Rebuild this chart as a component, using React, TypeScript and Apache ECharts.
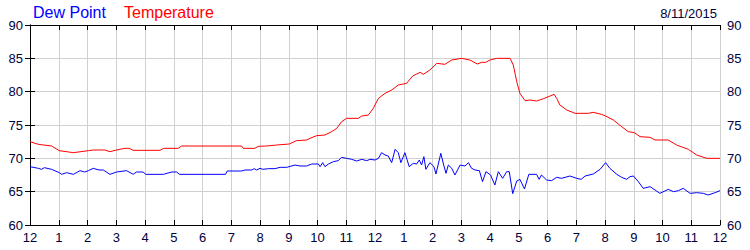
import React, { useEffect, useRef } from "react";
import * as echarts from "echarts";

const xTickLabels = ["12","1","2","3","4","5","6","7","8","9","10","11","12","1","2","3","4","5","6","7","8","9","10","11","12"];
const yTicks = [60, 65, 70, 75, 80, 85, 90];

const tempHours = [0,0.29,0.75,1.02,1.51,2.03,2.2,2.6,2.78,3.01,3.3,3.45,3.59,4.52,4.65,5.16,5.27,7.36,7.42,7.82,7.94,8.23,8.58,9.02,9.27,9.62,9.74,9.97,10.26,10.49,10.67,10.84,11.01,11.42,11.54,11.77,11.94,12.12,12.35,12.58,12.81,13.1,13.31,13.57,13.68,13.91,14.15,14.43,14.67,15.01,15.3,15.56,15.71,15.85,16.0,16.23,16.7,16.81,16.93,17.04,17.22,17.39,17.62,17.86,18.09,18.23,18.32,18.43,18.67,18.96,19.42,19.59,19.88,20.02,20.29,20.58,20.81,21.02,21.22,21.57,21.74,22.2,22.49,22.9,23.19,23.54,24];
const tempValues = [72.5,72.1,71.85,71.15,70.85,71.15,71.25,71.25,71.0,71.25,71.5,71.5,71.2,71.2,71.5,71.5,71.85,71.85,71.5,71.5,71.8,71.85,72.0,72.15,72.65,72.75,73.0,73.4,73.5,74.0,74.5,75.5,76.0,76.0,76.35,76.5,77.5,79.0,79.75,80.25,81.0,81.25,82.35,82.9,82.6,83.25,84.25,84.1,84.75,85.0,84.75,84.15,84.4,84.4,84.75,85.0,85.0,84.0,81.5,79.75,78.65,78.75,78.6,78.95,79.35,79.6,79.0,78.0,77.25,76.75,76.75,76.9,76.6,76.35,75.75,74.75,74.0,73.85,73.25,73.15,72.75,72.75,72.0,71.35,70.5,70.0,70.0];

const dewHours = [0,0.29,0.4,0.5,0.75,1.02,1.1,1.27,1.51,1.74,1.9,2.03,2.2,2.4,2.55,2.78,3.01,3.36,3.59,3.7,3.94,4.02,4.64,4.93,5.1,5.2,6.8,6.86,7.36,7.48,7.71,7.8,7.88,8.0,8.1,8.3,8.52,8.7,8.93,9.22,9.39,9.62,9.8,10.03,10.09,10.18,10.26,10.38,10.55,10.72,10.84,11.01,11.19,11.36,11.54,11.71,11.83,12.0,12.12,12.23,12.35,12.46,12.58,12.7,12.81,12.9,13.04,13.19,13.33,13.45,13.54,13.62,13.7,13.77,13.91,14.05,14.12,14.29,14.38,14.47,14.55,14.67,14.78,14.96,15.13,15.25,15.36,15.48,15.63,15.74,15.86,16.02,16.17,16.29,16.44,16.58,16.67,16.79,16.93,17.04,17.2,17.35,17.62,17.71,17.79,17.97,18.14,18.32,18.49,18.78,19.02,19.17,19.31,19.59,19.83,20.02,20.17,20.41,20.58,20.75,20.87,20.99,21.16,21.33,21.57,21.74,21.91,22.2,22.38,22.55,22.72,22.96,23.19,23.42,23.59,23.83,24];
const dewValues = [68.75,68.5,68.35,68.6,68.35,67.85,67.6,67.85,67.6,68.15,67.95,68.15,68.5,68.25,68.25,67.6,67.95,68.15,67.6,67.95,67.95,67.6,67.6,67.95,67.95,67.6,67.6,68.1,68.1,68.25,68.25,68.45,68.25,68.5,68.35,68.45,68.45,68.65,68.65,69.0,68.85,68.85,69.15,69.15,68.75,69.35,68.75,69.15,69.5,69.65,70.15,70.0,69.85,69.6,69.85,69.65,69.85,69.75,70.0,70.85,70.5,70.35,69.35,71.35,70.85,69.35,70.85,68.75,69.25,69.15,69.75,69.0,70.25,68.35,69.35,68.75,67.65,70.75,69.15,67.75,69.0,68.5,67.5,69.0,68.85,69.35,68.5,68.25,68.15,66.5,68.0,67.5,66.0,68.0,67.0,68.0,68.0,64.7,66.6,66.85,65.4,67.6,67.6,66.85,67.5,66.75,66.65,67.15,67.0,67.35,67.0,66.85,67.35,67.65,68.35,69.35,68.5,67.6,67.15,66.85,67.25,67.35,66.5,65.5,65.75,65.25,64.75,65.35,65.0,65.15,65.5,64.75,64.85,64.75,64.5,64.85,65.15];

const legendNames = ["Dew Point", "Temperature"];
const dateLabel = "8/11/2015";

const FONT = "'Liberation Sans', Arial, sans-serif";
const TEXT_COLOR = "#000040";

export default function App() {
  const ref = useRef<HTMLDivElement>(null);
  useEffect(() => {
    if (!ref.current) return;
    const chart = echarts.init(ref.current, null, { renderer: "svg" });
    const zip = (xs: number[], ys: number[]) => xs.map((x, i) => [x, ys[i]]);
    const axisLine = { show: true, lineStyle: { color: "#000", width: 1 } };
    const tick = { show: true, inside: true, length: 5, lineStyle: { color: "#000", width: 1 } };
    const label = { color: TEXT_COLOR, fontSize: 13, fontFamily: FONT };
    const split = { show: true, lineStyle: { color: "#d0d0d0", width: 1 } };
    chart.setOption({
      animation: false,
      backgroundColor: "#fff",
      grid: { left: 30, right: 30, top: 25, bottom: 25, containLabel: false },
      graphic: [
        { type: "text", left: 33, top: 4, style: { text: legendNames[0], fill: "#0000ff", font: `16px ${FONT}` } },
        { type: "text", left: 124, top: 4, style: { text: legendNames[1], fill: "#ff0000", font: `16px ${FONT}` } },
        { type: "text", right: 33, top: 7, style: { text: dateLabel, fill: TEXT_COLOR, font: `13px ${FONT}` } },
      ],
      xAxis: [
        {
          type: "value", min: 0, max: 24, interval: 1, position: "bottom",
          axisLine, axisTick: tick, splitLine: split,
          axisLabel: { ...label, margin: 6, formatter: (v: number) => xTickLabels[Math.round(v)] ?? "" },
        },
        {
          type: "value", min: 0, max: 24, interval: 1, position: "top",
          axisLine, axisTick: tick, splitLine: { show: false }, axisLabel: { show: false },
        },
      ],
      yAxis: [
        {
          type: "value", min: yTicks[0], max: yTicks[yTicks.length - 1], interval: 5, position: "left",
          axisLine, axisTick: tick, splitLine: split,
          axisLabel: { ...label, margin: 7 },
        },
        {
          type: "value", min: yTicks[0], max: yTicks[yTicks.length - 1], interval: 5, position: "right",
          axisLine, axisTick: tick, splitLine: { show: false },
          axisLabel: { ...label, margin: 7 },
        },
      ],
      series: [
        {
          name: legendNames[0], type: "line", xAxisIndex: 0, yAxisIndex: 0,
          data: zip(dewHours, dewValues), showSymbol: false, symbol: "none",
          lineStyle: { color: "#0000ff", width: 1 }, z: 3,
        },
        {
          name: legendNames[1], type: "line", xAxisIndex: 0, yAxisIndex: 0,
          data: zip(tempHours, tempValues), showSymbol: false, symbol: "none",
          lineStyle: { color: "#ff0000", width: 1 }, z: 3,
        },
      ],
    });
    return () => chart.dispose();
  }, []);
  return <div ref={ref} style={{ position: "fixed", left: 0, top: 0, width: 750, height: 250 }} />;
}
